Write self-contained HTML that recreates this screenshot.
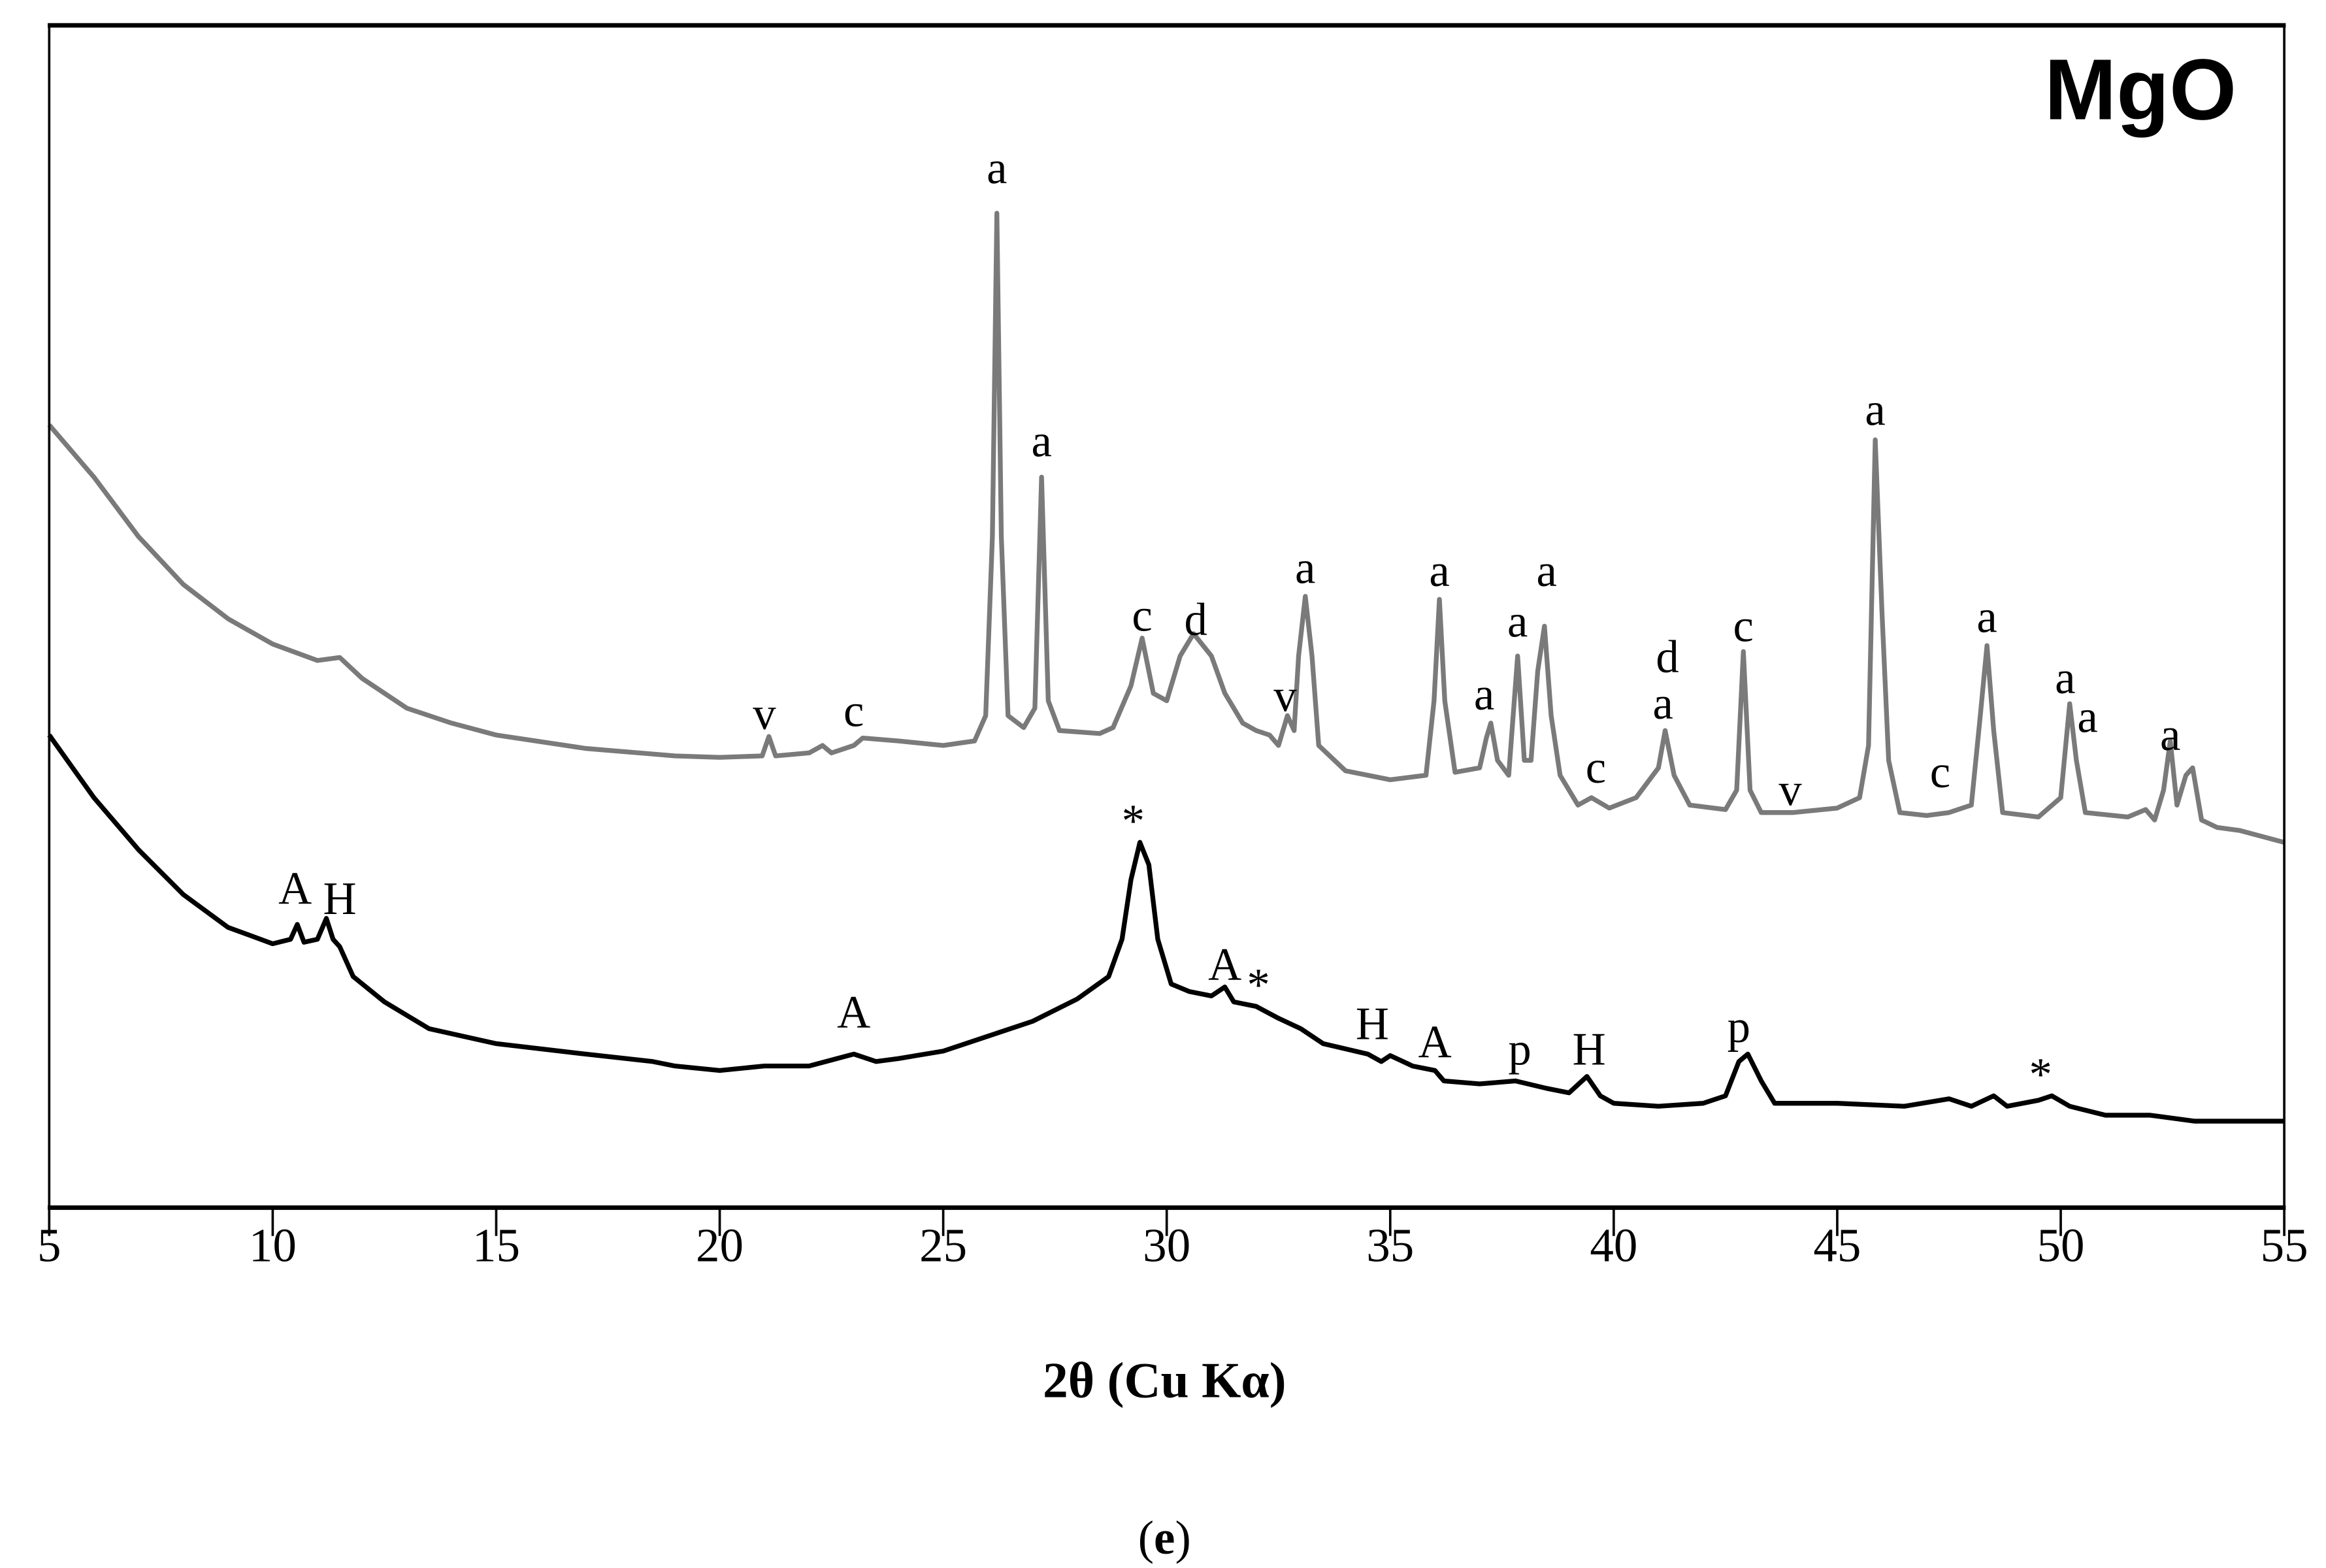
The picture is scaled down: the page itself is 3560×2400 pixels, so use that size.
<!DOCTYPE html>
<html><head><meta charset="utf-8"><style>html,body{margin:0;padding:0;background:#fff}svg{display:block}</style></head>
<body>
<svg id="chart" width="3560" height="2400" viewBox="0 0 1560 1051.7" preserveAspectRatio="none" xmlns="http://www.w3.org/2000/svg" font-family="'Liberation Serif', serif">
<rect x="0" y="0" width="1560" height="1052" fill="#fff"/>
<g id="series"></g>
<g id="labels" font-size="31" text-anchor="middle"></g>
<line x1="33" y1="16" x2="33" y2="811" stroke="#000" stroke-width="1.6"/>
<line x1="1532" y1="16" x2="1532" y2="811" stroke="#000" stroke-width="1.6"/>
<line x1="32" y1="17" x2="1533" y2="17" stroke="#000" stroke-width="3"/>
<line x1="32" y1="810" x2="1533" y2="810" stroke="#000" stroke-width="3"/>
<g id="ticks"></g>
<text x="1500" y="80" text-anchor="end" font-family="'Liberation Sans', sans-serif" font-weight="bold" font-size="58">MgO</text>
<text x="781" y="937" text-anchor="middle" font-weight="bold" font-size="34">2θ (Cu Kα)</text>
<text x="781" y="1042" text-anchor="middle" font-size="32">(<tspan font-weight="bold">e</tspan>)</text>
</svg>
<script>
const xTicks = [5,10,15,20,25,30,35,40,45,50,55];
const grayX = [5,6,7,8,9,10,11,11.5,12,13,14,15,17,19,20,20.95,21.1,21.25,22,22.3,22.5,23,23.2,24,25,25.7,25.95,26.1,26.2,26.3,26.45,26.8,27.05,27.2,27.35,27.6,28.5,28.8,29.2,29.45,29.7,30,30.3,30.6,31,31.3,31.7,32,32.3,32.5,32.7,32.85,32.95,33.1,33.25,33.4,34,35,35.8,35.98,36.1,36.22,36.45,37,37.15,37.25,37.4,37.65,37.85,38,38.15,38.3,38.45,38.6,38.8,39.2,39.5,39.9,40.5,41,41.15,41.35,41.7,42.5,42.75,42.9,43.05,43.3,44,45,45.5,45.7,45.85,46,46.15,46.4,47,47.5,48,48.2,48.35,48.5,48.7,49.5,50,50.2,50.35,50.55,51.5,51.9,52.1,52.3,52.45,52.6,52.8,52.95,53.15,53.5,54,55];
const grayI = [525,490,450,418,395,378,367,369,355,335,325,317,308,303,302,303,316,303,305,310,305,310,315,313,310,313,330,450,667,450,330,322,335,490,340,320,318,322,350,382,345,340,370,385,370,345,325,320,317,310,330,320,370,410,370,310,293,287,290,340,408,340,292,295,315,325,300,290,370,300,300,360,390,330,290,270,275,268,275,295,320,290,270,267,280,373,280,265,265,268,275,310,515,400,300,265,263,265,270,330,377,320,265,262,275,338,300,265,262,267,260,280,313,270,290,295,260,255,253,245];
const blackX = [5,6,7,8,9,10,10.4,10.55,10.7,11,11.2,11.35,11.5,11.8,12.5,13.5,15,17,18.5,19,20,21,22,23,23.5,24,25,26,27,28,28.7,29,29.2,29.4,29.6,29.8,30.1,30.5,31,31.3,31.5,32,32.5,33,33.5,34.5,34.8,35,35.5,36,36.2,37,37.8,38.5,39,39.4,39.7,40,41,42,42.5,42.8,43,43.3,43.6,45,46.5,47.5,48,48.5,48.8,49.5,49.8,50.2,51,52,53,55];
const blackI = [317,275,240,210,188,177,180,190,178,180,194,180,175,155,138,120,110,103,98,95,92,95,95,103,98,100,105,115,125,140,155,180,220,245,230,180,150,145,142,148,138,135,127,120,110,103,98,102,95,92,85,83,85,80,77,88,75,70,68,70,75,98,103,85,70,70,68,73,68,75,68,72,75,68,62,62,58,58];
const labelText = ['a','a','c','d','a','v','a','a','a','a','v','c','d','a','c','c','v','a','c','a','a','a','a','*','A','H','A','A','*','H','A','p','H','p','*'];
const labelX = [26.2,27.2,29.45,30.65,33.1,32.65,36.1,37.1,37.85,38.5,21.0,23.0,41.2,41.1,42.9,39.6,43.95,45.85,47.3,48.35,50.1,50.6,52.45,29.25,10.5,11.5,23.0,31.3,32.05,34.6,36.0,37.9,39.45,42.8,49.55];
const labelI = [688,505,388,385,420,334,418,335,384,418,322,324,360,329,381,286,271,526,283,387,346,320,308,250,205,198,122,154,140,114,102,97,97,112,80];
const X0=5,X1=55,PX0=33,PX1=1532;
function xs(v){return PX0+(v-X0)/(X1-X0)*(PX1-PX0);}
function ys(v){return 810-v;}
const NS='http://www.w3.org/2000/svg';
const sg=document.getElementById('series');
function drawSeries(xa,ya,color,name){
  const p=document.createElementNS(NS,'path');
  let d='';
  for(let i=0;i<xa.length;i++){d+=(i?'L':'M')+xs(xa[i]).toFixed(2)+' '+ys(ya[i]).toFixed(2);}
  p.setAttribute('d',d);p.setAttribute('fill','none');p.setAttribute('stroke',color);
  p.setAttribute('stroke-width','3.2');p.setAttribute('stroke-linejoin','round');
  
  
  sg.appendChild(p);
}
drawSeries(grayX,grayI,'#7a7a7a','mgo-treated-pattern');
drawSeries(blackX,blackI,'#000','mgo-reference-pattern');
const lg=document.getElementById('labels');
for(let i=0;i<labelText.length;i++){
  const t=document.createElementNS(NS,'text');
  t.setAttribute('x',xs(labelX[i]).toFixed(1));
  t.setAttribute('y',(ys(labelI[i])+1).toFixed(1));
  t.textContent=labelText[i];
  
  
  lg.appendChild(t);
}
const tg=document.getElementById('ticks');
for(const v of xTicks){
  const l=document.createElementNS(NS,'line');
  l.setAttribute('x1',xs(v));l.setAttribute('x2',xs(v));l.setAttribute('y1',810);l.setAttribute('y2',829);
  l.setAttribute('stroke','#000');l.setAttribute('stroke-width','1.6');
  
  
  tg.appendChild(l);
  const t=document.createElementNS(NS,'text');
  t.setAttribute('x',xs(v));t.setAttribute('y',846);t.setAttribute('text-anchor','middle');t.setAttribute('font-size','32');
  t.textContent=v;
  
  
  tg.appendChild(t);
}
</script>
</body></html>
